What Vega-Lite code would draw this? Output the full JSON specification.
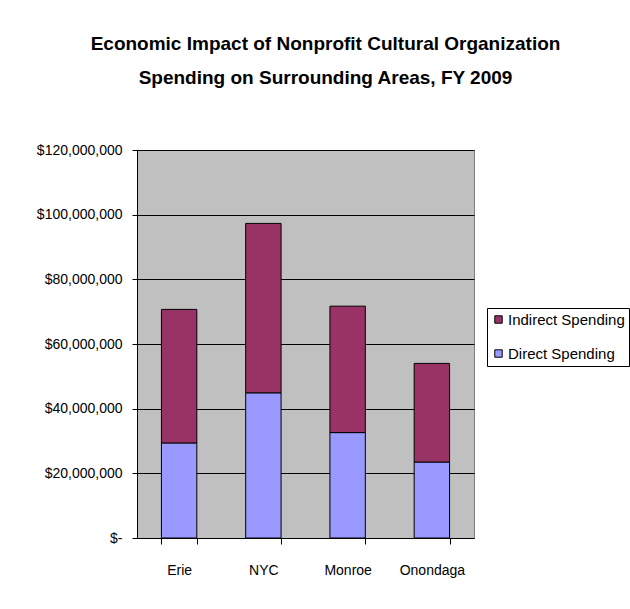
{
  "$schema": "https://vega.github.io/schema/vega-lite/v6.json",
  "autosize": "none",
  "padding": {"left": 137, "top": 150, "right": 156, "bottom": 71},
  "width": 337,
  "height": 388,
  "background": "white",
  "title": {
    "text": ["Economic Impact of Nonprofit Cultural Organization", "Spending on Surrounding Areas, FY 2009"],
    "font": "Liberation Sans",
    "fontSize": 19,
    "fontWeight": "bold",
    "color": "black",
    "anchor": "middle",
    "dx": 20,
    "offset": 55,
    "lineHeight": 34
  },
  "data": {
    "values": [
      {"county": "Erie", "series": "Direct Spending", "value": 29400000},
      {"county": "Erie", "series": "Indirect Spending", "value": 41300000},
      {"county": "NYC", "series": "Direct Spending", "value": 44900000},
      {"county": "NYC", "series": "Indirect Spending", "value": 52400000},
      {"county": "Monroe", "series": "Direct Spending", "value": 32600000},
      {"county": "Monroe", "series": "Indirect Spending", "value": 39100000},
      {"county": "Onondaga", "series": "Direct Spending", "value": 23500000},
      {"county": "Onondaga", "series": "Indirect Spending", "value": 30500000}
    ]
  },
  "mark": {"type": "bar", "stroke": "black", "strokeWidth": 1},
  "encoding": {
    "x": {
      "field": "county",
      "type": "nominal",
      "sort": ["Erie", "NYC", "Monroe", "Onondaga"],
      "scale": {"paddingInner": 0.58, "paddingOuter": 0.29},
      "axis": {
        "title": null,
        "labelAngle": 0,
        "tickBand": "extent",
        "tickSize": 6,
        "tickColor": "black",
        "domainColor": "black",
        "labelPadding": 19,
        "labelFont": "Liberation Sans",
        "labelFontSize": 14,
        "labelColor": "black",
        "grid": false
      }
    },
    "y": {
      "field": "value",
      "type": "quantitative",
      "stack": "zero",
      "scale": {"domain": [0, 120000000], "nice": false},
      "axis": {
        "title": null,
        "values": [0, 20000000, 40000000, 60000000, 80000000, 100000000, 120000000],
        "labelExpr": "datum.value == 0 ? '$-' : '$' + format(datum.value, ',')",
        "tickSize": 5,
        "tickColor": "black",
        "domainColor": "black",
        "labelPadding": 10,
        "labelFont": "Liberation Sans",
        "labelFontSize": 14,
        "labelColor": "black",
        "grid": true,
        "gridColor": "black",
        "gridWidth": 1.2,
        "gridOpacity": 1
      }
    },
    "color": {
      "field": "series",
      "type": "nominal",
      "scale": {"domain": ["Indirect Spending", "Direct Spending"], "range": ["#993366", "#9999FF"]},
      "legend": {
        "title": null,
        "orient": "none",
        "legendX": 350,
        "legendY": 158,
        "symbolType": "square",
        "symbolSize": 55,
        "symbolStrokeColor": "black",
        "symbolStrokeWidth": 1,
        "labelFont": "Liberation Sans",
        "labelFontSize": 15,
        "labelColor": "black",
        "labelOffset": 2,
        "rowPadding": 18,
        "padding": 4,
        "strokeColor": "black",
        "fillColor": "white"
      }
    },
    "order": {"field": "series", "sort": "ascending"}
  },
  "config": {
    "view": {"fill": "#C0C0C0", "stroke": "#808080", "strokeWidth": 1}
  }
}
